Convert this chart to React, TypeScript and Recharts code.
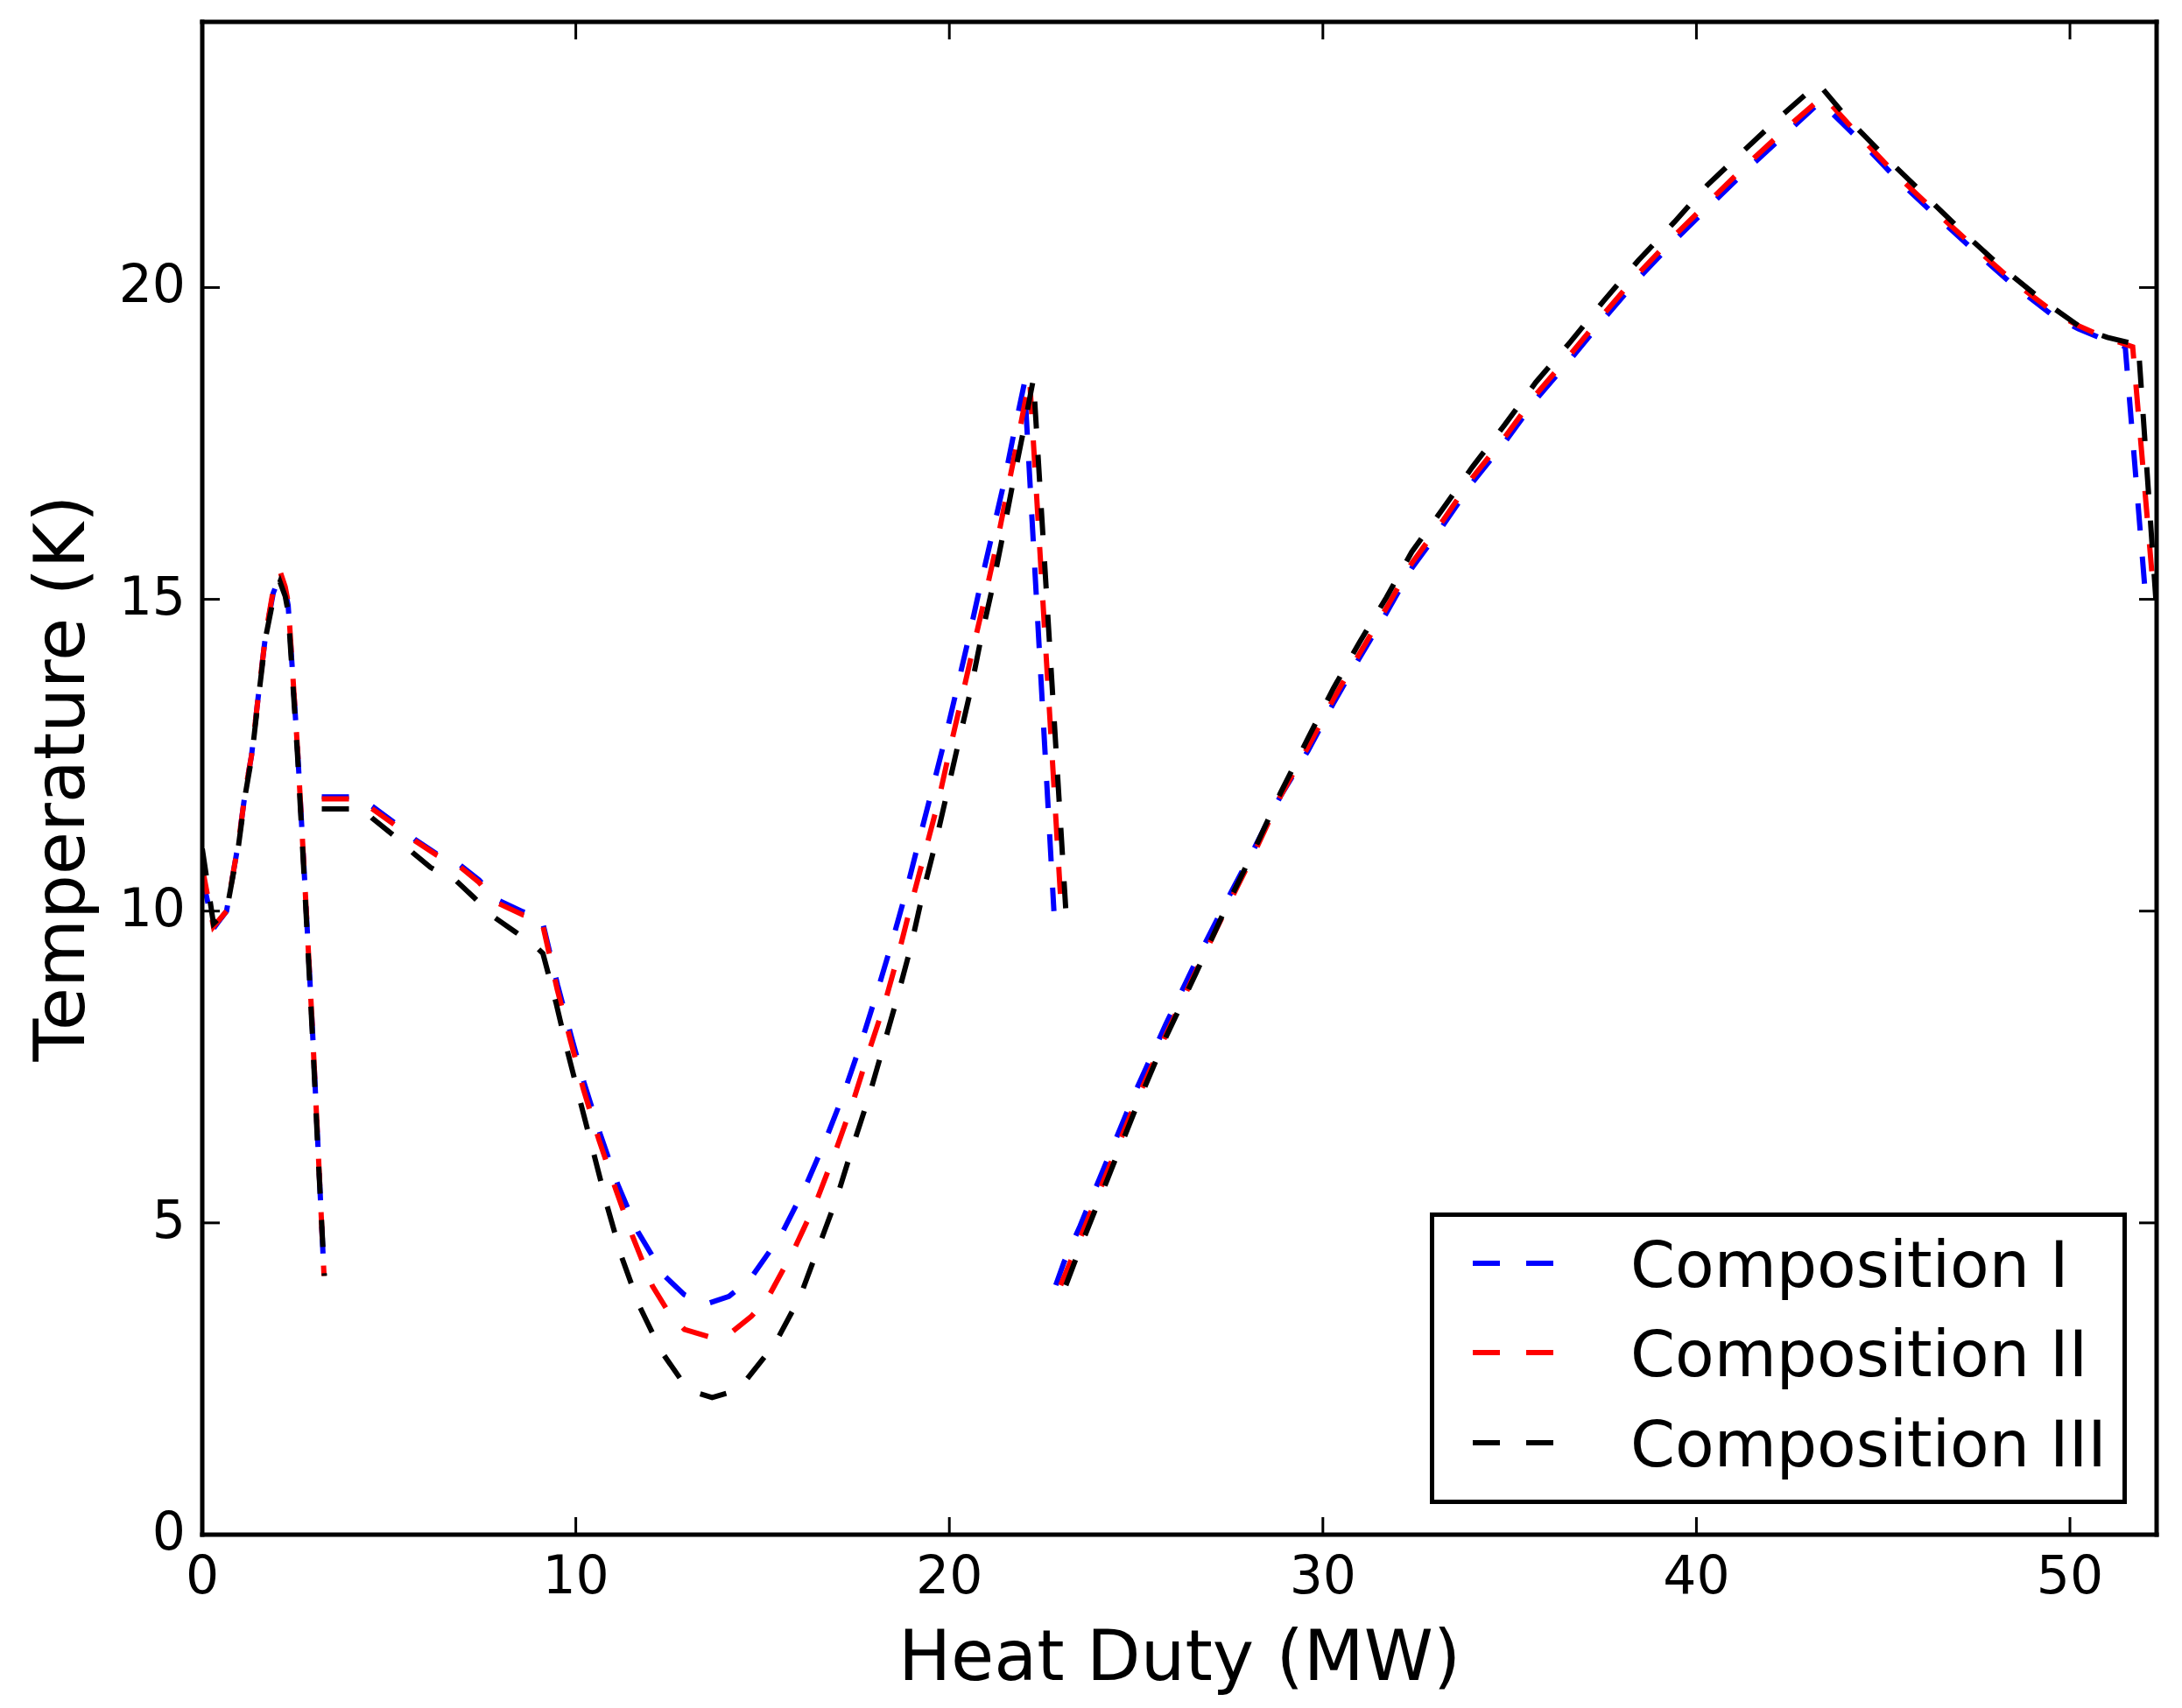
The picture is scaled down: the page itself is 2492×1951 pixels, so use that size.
import React from "react";
import { Legend, Line, LineChart, XAxis, YAxis } from "recharts";

type Pt = [number, number];

const dutyTicks = [0, 10, 20, 30, 40, 50];
const tempTicks = [0, 5, 10, 15, 20];
const dutyMax = 52.32;
const tempMax = 24.26;

// Composition I (blue), three separate pieces
const compILow: Pt[] = [
  [0, 10.55], [0.3, 9.72], [0.65, 10.0], [0.97, 11.1], [1.16, 11.95], [1.32, 12.5], [1.51, 13.5],
  [1.7, 14.45], [1.9, 15.1], [2.08, 15.38], [2.22, 15.15], [2.3, 14.9], [2.55, 12.6], [2.75, 10.4],
  [2.95, 8.1], [3.1, 6.2], [3.26, 4.15],
];
const compIMid: Pt[] = [
  [3.2, 11.83], [4.2, 11.83], [4.55, 11.68], [5.18, 11.4], [5.69, 11.15], [6.27, 10.92], [6.86, 10.76],
  [7.41, 10.5], [7.87, 10.19], [8.58, 9.99], [9.08, 9.9], [9.51, 8.82], [9.87, 8.01], [10.22, 7.25],
  [10.65, 6.43], [11.12, 5.62], [11.66, 4.86], [12.36, 4.16], [12.9, 3.85], [13.5, 3.7], [14.1, 3.82],
  [14.67, 4.1], [15.49, 4.8], [16.11, 5.53], [16.66, 6.29], [17.17, 7.07], [17.64, 7.89], [18.07, 8.71],
  [18.46, 9.49], [18.85, 10.33], [19.2, 11.16], [19.55, 11.97], [19.9, 12.8], [20.22, 13.61],
  [20.53, 14.41], [20.84, 15.25], [21.15, 16.05], [21.47, 16.89], [21.74, 17.7], [22.01, 18.47],
  [22.8, 10.0],
];
const compIHigh: Pt[] = [
  [22.85, 4.0], [23.07, 4.37], [23.5, 4.95], [24.2, 5.97], [25.0, 7.13], [25.8, 8.19], [26.6, 9.19],
  [27.4, 10.14], [28.2, 11.05], [28.87, 11.85], [29.6, 12.57], [30.28, 13.33], [30.97, 14.05],
  [31.7, 14.78], [32.38, 15.5], [33.21, 16.18], [34.0, 16.87], [34.87, 17.52], [35.7, 18.2],
  [36.63, 18.85], [37.51, 19.49], [38.44, 20.14], [39.41, 20.75], [40.44, 21.36], [41.42, 21.93],
  [42.4, 22.47], [43.32, 22.98], [44.41, 22.34], [45.38, 21.73], [46.43, 21.14], [47.44, 20.59],
  [48.48, 20.04], [49.57, 19.54], [50.22, 19.34], [50.94, 19.16], [51.48, 19.05], [52.03, 15.0],
];

// Composition II (red)
const compIILow: Pt[] = [
  [0, 10.7], [0.3, 9.75], [0.65, 10.0], [0.97, 11.1], [1.16, 11.95], [1.32, 12.5], [1.51, 13.5],
  [1.7, 14.45], [1.9, 15.15], [2.08, 15.45], [2.22, 15.2], [2.3, 14.95], [2.55, 12.6], [2.75, 10.4],
  [2.95, 8.1], [3.1, 6.2], [3.26, 4.15],
];
const compIIMid: Pt[] = [
  [3.2, 11.8], [4.2, 11.8], [4.55, 11.64], [5.18, 11.37], [5.69, 11.13], [6.27, 10.9], [6.86, 10.73],
  [7.41, 10.46], [7.87, 10.14], [8.58, 9.94], [9.08, 9.87], [9.5, 8.75], [9.86, 7.92], [10.2, 7.15],
  [10.62, 6.33], [11.08, 5.52], [11.51, 4.8], [12.05, 3.99], [12.5, 3.55], [12.91, 3.29],
  [13.65, 3.16], [14.2, 3.26], [14.7, 3.5], [15.18, 3.84], [15.84, 4.57], [16.43, 5.33],
  [16.93, 6.11], [17.4, 6.9], [17.83, 7.72], [18.26, 8.5], [18.65, 9.34], [19.0, 10.16],
  [19.36, 10.97], [19.71, 11.77], [20.02, 12.61], [20.33, 13.41], [20.65, 14.25], [20.96, 15.05],
  [21.27, 15.89], [21.54, 16.7], [21.82, 17.53], [22.15, 18.53], [23.0, 10.0],
];
const compIIHigh: Pt[] = [
  [22.98, 4.0], [23.5, 4.75], [24.2, 5.78], [25.0, 6.95], [25.8, 8.02], [26.6, 9.03], [27.4, 10.02],
  [28.2, 10.98], [28.87, 11.85], [29.6, 12.63], [30.28, 13.4], [30.97, 14.12], [31.7, 14.86],
  [32.38, 15.58], [33.21, 16.26], [34.0, 16.95], [34.87, 17.6], [35.7, 18.28], [36.63, 18.93],
  [37.51, 19.57], [38.44, 20.22], [39.41, 20.83], [40.44, 21.44], [41.42, 22.01], [42.4, 22.55],
  [43.4, 23.07], [44.41, 22.4], [45.38, 21.79], [46.43, 21.2], [47.44, 20.65], [48.48, 20.1],
  [49.57, 19.6], [50.22, 19.39], [50.94, 19.2], [51.68, 19.05], [52.24, 15.1],
];

// Composition III (black)
const compIIILow: Pt[] = [
  [0, 11.0], [0.3, 9.8], [0.65, 10.0], [0.97, 11.05], [1.16, 11.9], [1.32, 12.45], [1.51, 13.45],
  [1.7, 14.4], [1.9, 15.0], [2.08, 15.28], [2.22, 15.05], [2.3, 14.8], [2.55, 12.5], [2.75, 10.3],
  [2.95, 8.0], [3.1, 6.1], [3.27, 4.15],
];
const compIIIMid: Pt[] = [
  [3.2, 11.64], [4.3, 11.64], [4.55, 11.49], [5.13, 11.21], [5.65, 10.93], [6.11, 10.7], [6.81, 10.48],
  [7.27, 10.22], [7.82, 9.9], [8.37, 9.67], [8.93, 9.43], [9.12, 9.32], [9.47, 8.53], [9.79, 7.72],
  [10.14, 6.9], [10.49, 6.09], [10.84, 5.27], [11.23, 4.45], [11.7, 3.67], [12.29, 2.94], [12.8, 2.5],
  [13.26, 2.27], [13.65, 2.2], [14.05, 2.27], [14.47, 2.41], [15.33, 3.06], [16.0, 3.81],
  [16.51, 4.63], [16.98, 5.39], [17.4, 6.2], [17.83, 6.99], [18.22, 7.8], [18.61, 8.62],
  [18.97, 9.43], [19.28, 10.26], [19.63, 11.09], [19.94, 11.9], [20.26, 12.74], [20.57, 13.54],
  [20.84, 14.35], [21.15, 15.18], [21.43, 16.02], [21.7, 16.86], [21.97, 17.66], [22.25, 18.53],
  [23.12, 10.0],
];
const compIIIHigh: Pt[] = [
  [23.12, 4.0], [23.5, 4.6], [24.2, 5.65], [25.0, 6.85], [25.8, 7.98], [26.6, 9.0], [27.4, 10.05],
  [28.2, 11.03], [28.87, 11.9], [29.6, 12.77], [30.28, 13.57], [30.97, 14.3], [31.7, 15.03],
  [32.38, 15.76], [33.21, 16.45], [34.0, 17.12], [34.87, 17.8], [35.7, 18.48], [36.63, 19.13],
  [37.51, 19.78], [38.44, 20.43], [39.41, 21.05], [40.29, 21.64], [41.1, 22.1], [42.15, 22.69],
  [43.26, 23.27], [44.08, 22.69], [45.13, 22.05], [46.15, 21.46], [47.15, 20.88], [48.16, 20.33],
  [49.25, 19.8], [50.34, 19.34], [51.0, 19.2], [51.83, 19.08], [52.3, 15.0],
];

const series = [
  { name: "Composition I", color: "#0000ff", pieces: [compILow, compIMid, compIHigh] },
  { name: "Composition II", color: "#ff0000", pieces: [compIILow, compIIMid, compIIHigh] },
  { name: "Composition III", color: "#000000", pieces: [compIIILow, compIIIMid, compIIIHigh] },
];

const toRows = (pts: Pt[]) => pts.map(([duty, temp]) => ({ duty, temp }));

const W = 2492;
const H = 1951;
const PLOT_LEFT = 231;
const PLOT_TOP = 25;
const PLOT_RIGHT = 2463;
const PLOT_BOTTOM = 1753;
const FONT = "'DejaVu Sans', sans-serif";
const DASH = "31 30";
const TICK_LEN = 20;

const spine = { stroke: "#000", strokeWidth: 5, strokeLinecap: "square" as const };

const BottomTick = ({ x, y, payload }: any) => (
  <g>
    <line x1={x} y1={y} x2={x} y2={y - TICK_LEN} stroke="#000" strokeWidth={3} />
    <text x={x} y={y + 67} textAnchor="middle" fontSize={60} fontFamily={FONT} fill="#000">
      {payload.value}
    </text>
  </g>
);

const TopTick = ({ x, y }: any) => (
  <line x1={x} y1={y} x2={x} y2={y + TICK_LEN} stroke="#000" strokeWidth={3} />
);

const LeftTick = ({ x, y, payload }: any) => (
  <g>
    <line x1={x} y1={y} x2={x + TICK_LEN} y2={y} stroke="#000" strokeWidth={3} />
    <text x={x - 19} y={y + 17} textAnchor="end" fontSize={60} fontFamily={FONT} fill="#000">
      {payload.value}
    </text>
  </g>
);

const RightTick = ({ x, y }: any) => (
  <line x1={x} y1={y} x2={x - TICK_LEN} y2={y} stroke="#000" strokeWidth={3} />
);

const XTitle = () => (
  <text x={(PLOT_LEFT + PLOT_RIGHT) / 2} y={1919} textAnchor="middle" fontSize={80} fontFamily={FONT} fill="#000">
    Heat Duty (MW)
  </text>
);

const YTitle = () => {
  const cy = (PLOT_TOP + PLOT_BOTTOM) / 2;
  return (
    <text
      x={96}
      y={cy}
      transform={`rotate(-90 96 ${cy})`}
      textAnchor="middle"
      fontSize={80}
      fontFamily={FONT}
      fill="#000"
    >
      Temperature (K)
    </text>
  );
};

const LEGEND_W = 796;
const LEGEND_H = 333;
const legendRows = [58, 160, 263];

const LegendBox = () => (
  <svg width={LEGEND_W} height={LEGEND_H} style={{ display: "block" }}>
    <rect x={2.5} y={2.5} width={LEGEND_W - 5} height={LEGEND_H - 5} fill="#fff" stroke="#000" strokeWidth={5} />
    {series.map((s, i) => (
      <g key={s.name}>
        <line
          x1={49}
          y1={legendRows[i]}
          x2={141}
          y2={legendRows[i]}
          stroke={s.color}
          strokeWidth={6}
          strokeDasharray={DASH}
        />
        <text x={229} y={legendRows[i] + 27} fontSize={73} fontFamily={FONT} fill="#000">
          {s.name}
        </text>
      </g>
    ))}
  </svg>
);

export default function App() {
  return (
    <div style={{ position: "absolute", left: 0, top: 0, width: W, height: H, background: "#fff" }}>
      {/* top axis is 1px tall and right axis 1px wide: Recharts skips axes of size 0 */}
      <LineChart width={W} height={H} margin={{ top: PLOT_TOP - 1, right: W - PLOT_RIGHT - 1, bottom: 0, left: 0 }}>
        <XAxis
          type="number"
          dataKey="duty"
          domain={[0, dutyMax]}
          ticks={dutyTicks}
          allowDataOverflow
          height={H - PLOT_BOTTOM}
          axisLine={spine}
          tickLine={false}
          tickSize={0}
          tickMargin={0}
          tick={BottomTick}
          interval={0}
          label={XTitle}
        />
        <XAxis
          xAxisId="top"
          orientation="top"
          type="number"
          dataKey="duty"
          domain={[0, dutyMax]}
          ticks={dutyTicks}
          allowDataOverflow
          height={1}
          axisLine={spine}
          tickLine={false}
          tickSize={0}
          tickMargin={0}
          tick={TopTick}
          interval={0}
        />
        <YAxis
          type="number"
          domain={[0, tempMax]}
          ticks={tempTicks}
          allowDataOverflow
          width={PLOT_LEFT}
          axisLine={spine}
          tickLine={false}
          tickSize={0}
          tickMargin={0}
          tick={LeftTick}
          interval={0}
          label={YTitle}
        />
        <YAxis
          yAxisId="right"
          orientation="right"
          type="number"
          domain={[0, tempMax]}
          ticks={tempTicks}
          allowDataOverflow
          width={1}
          axisLine={spine}
          tickLine={false}
          tickSize={0}
          tickMargin={0}
          tick={RightTick}
          interval={0}
        />
        {series.flatMap((s) =>
          s.pieces.map((piece, j) => (
            <Line
              key={`${s.name}-${j}`}
              data={toRows(piece)}
              dataKey="temp"
              name={s.name}
              type="linear"
              stroke={s.color}
              strokeWidth={6}
              strokeDasharray={DASH}
              dot={false}
              activeDot={false}
              legendType="none"
              isAnimationActive={false}
            />
          ))
        )}
        <Legend
          layout="vertical"
          align="center"
          verticalAlign="middle"
          wrapperStyle={{ left: 1633, top: 1385, width: LEGEND_W, height: LEGEND_H }}
          content={() => <LegendBox />}
        />
      </LineChart>
    </div>
  );
}
